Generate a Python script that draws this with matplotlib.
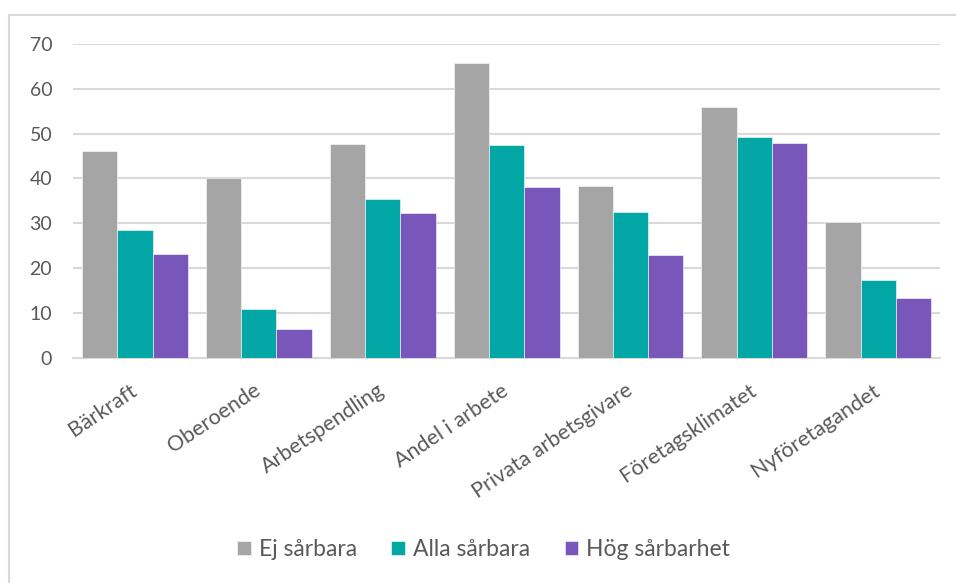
import matplotlib
matplotlib.use("Agg")
import matplotlib.pyplot as plt
import numpy as np
from matplotlib.lines import Line2D

categories = ["Bärkraft", "Oberoende", "Arbetspendling", "Andel i arbete",
              "Privata arbetsgivare", "Företagsklimatet", "Nyföretagandet"]
ej_sarbara = [46.0, 40.0, 47.6, 65.6, 38.2, 55.9, 30.2]
alla_sarbara = [28.6, 11.0, 35.4, 47.5, 32.6, 49.3, 17.4]
hog_sarbarhet = [23.2, 6.5, 32.4, 38.0, 23.0, 47.8, 13.4]
series_names = ["Ej sårbara", "Alla sårbara", "Hög sårbarhet"]
yticks = [0, 10, 20, 30, 40, 50, 60, 70]

colors = ["#A5A5A5", "#02A6A4", "#7856BA"]
txt = "#595959"
plt.rcParams['font.family'] = ['Lato', 'DejaVu Sans']

fig = plt.figure(figsize=(9.56, 5.83), dpi=100)
ax = fig.add_axes([0.0764, 0.386, 0.907, 0.539])

x = np.arange(len(categories))
w = 0.285
for i, (vals, c, name) in enumerate(zip([ej_sarbara, alla_sarbara, hog_sarbarhet], colors, series_names)):
    ax.bar(x + (i - 1) * w, vals, width=w, color=c, label=name,
           edgecolor="white", linewidth=0.4, zorder=3)

ax.set_xlim(-0.5, len(categories) - 0.5)
ax.set_ylim(0, 70)
ax.set_yticks(yticks)
ax.set_yticklabels([str(t) for t in yticks], fontsize=14, color=txt)
ax.yaxis.grid(True, color="#D9D9D9", linewidth=1.5, zorder=0)
ax.tick_params(axis='y', length=0, pad=15)
ax.tick_params(axis='x', length=0, pad=22)
ax.set_xticks(x)
ax.set_xticklabels(categories, rotation=34, ha='right', va='center',
                   rotation_mode='anchor', fontsize=15.5, color=txt)
for s in ["top", "right", "left"]:
    ax.spines[s].set_visible(False)
ax.spines["bottom"].set_color("#D9D9D9")
ax.spines["bottom"].set_linewidth(1.5)

leg = fig.legend(loc='center', bbox_to_anchor=(0.506, 0.057), ncol=3, frameon=False,
                 fontsize=16.5, handlelength=0.6, handleheight=0.6,
                 handletextpad=0.35, columnspacing=1.5, labelcolor=txt)

# outer chart frame (left and top visible)
fig.add_artist(Line2D([0.0094, 0.0094], [0, 1 - 15/583], transform=fig.transFigure,
                      color="#D9D9D9", linewidth=1.5))
fig.add_artist(Line2D([0.0094, 1.0], [1 - 15/583, 1 - 15/583], transform=fig.transFigure,
                      color="#D9D9D9", linewidth=1.5))

fig.savefig("out.png", dpi=100, facecolor="white")
